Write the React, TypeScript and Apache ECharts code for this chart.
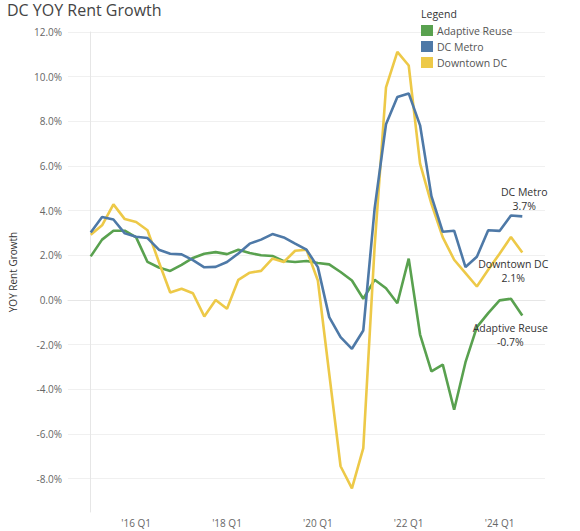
import React, { useEffect, useRef } from "react";
import * as echarts from "echarts";

const quarters = [
  "'15 Q1", "'15 Q2", "'15 Q3", "'15 Q4",
  "'16 Q1", "'16 Q2", "'16 Q3", "'16 Q4",
  "'17 Q1", "'17 Q2", "'17 Q3", "'17 Q4",
  "'18 Q1", "'18 Q2", "'18 Q3", "'18 Q4",
  "'19 Q1", "'19 Q2", "'19 Q3", "'19 Q4",
  "'20 Q1", "'20 Q2", "'20 Q3", "'20 Q4",
  "'21 Q1", "'21 Q2", "'21 Q3", "'21 Q4",
  "'22 Q1", "'22 Q2", "'22 Q3", "'22 Q4",
  "'23 Q1", "'23 Q2", "'23 Q3", "'23 Q4",
  "'24 Q1", "'24 Q2", "'24 Q3",
];

const xTickIndices = [4, 12, 20, 28, 36];
const yTickValues = [-8, -6, -4, -2, 0, 2, 4, 6, 8, 10, 12];

const adaptiveReuse = [
  1.95, 2.7, 3.1, 3.1, 2.8, 1.7, 1.45, 1.3, 1.57, 1.88,
  2.07, 2.14, 2.05, 2.25, 2.1, 2.0, 1.97, 1.74, 1.7, 1.74,
  1.65, 1.59, 1.25, 0.87, 0.05, 0.9, 0.52, -0.15, 1.85, -1.55,
  -3.2, -2.9, -4.92, -2.79, -1.22, -0.59, -0.02, 0.05, -0.7,
];

const dcMetro = [
  3.02, 3.71, 3.6, 2.98, 2.83, 2.77, 2.25, 2.07, 2.04, 1.78,
  1.46, 1.48, 1.7, 2.08, 2.52, 2.7, 2.95, 2.8, 2.52, 2.25,
  1.47, -0.77, -1.67, -2.19, -1.37, 4.1, 7.87, 9.09, 9.25, 7.82,
  4.65, 3.05, 3.1, 1.47, 1.93, 3.12, 3.09, 3.78, 3.74,
];

const downtownDC = [
  2.92, 3.34, 4.28, 3.62, 3.49, 3.12, 1.7, 0.33, 0.5, 0.3,
  -0.74, 0.0, -0.4, 0.9, 1.22, 1.3, 1.85, 1.7, 2.2, 2.25,
  0.87, -3.3, -7.45, -8.44, -6.64, 2.4, 9.52, 11.11, 10.5, 6.1,
  4.3, 2.8, 1.8, 1.2, 0.6, 1.35, 2.07, 2.82, 2.12,
];

const seriesNames = ["Adaptive Reuse", "DC Metro", "Downtown DC"];
const seriesColors = ["#59a14f", "#4e79a7", "#edc948"];

const FONT = "'Open Sans', 'Noto Sans', sans-serif";

export default function App() {
  const ref = useRef<HTMLDivElement>(null);

  useEffect(() => {
    if (!ref.current) return;
    const chart = echarts.init(ref.current, undefined, { renderer: "svg" });

    const endLabelCfg: any[] = [
      { verticalAlign: "top", offset: [-12, 5] },
      { verticalAlign: "bottom", offset: [2, -3] },
      { verticalAlign: "top", offset: [-9, 4] },
    ];

    const allValues = [adaptiveReuse, dcMetro, downtownDC];

    const series = allValues.map((vals, s) => ({
      name: seriesNames[s],
      type: "line",
      symbol: "none",
      showSymbol: false,
      color: seriesColors[s],
      lineStyle: { width: 2.6, color: seriesColors[s] },
      z: s === 1 ? 4 : s === 2 ? 3 : 2,
      endLabel: {
        show: true,
        formatter: (p: any) => seriesNames[s] + "\n" + Number(p.value[1]).toFixed(1) + "%",
        color: "#333",
        fontSize: 10.5,
        fontFamily: FONT,
        lineHeight: 14,
        distance: 0,
        align: "center",
        ...endLabelCfg[s],
      },
      data: vals.map((v, i) => [i, v]),
    }));

    chart.setOption({
      animation: false,
      backgroundColor: "#ffffff",
      textStyle: { fontFamily: FONT },
      title: [
        {
          text: "DC YOY Rent Growth",
          left: 7,
          top: 2,
          padding: 0,
          textStyle: {
            fontSize: 16,
            fontWeight: "normal",
            color: "#444",
            fontFamily: FONT,
          },
        },
        {
          text: "Legend",
          left: 421,
          top: 8,
          padding: 0,
          textStyle: {
            fontSize: 10.5,
            fontWeight: "normal",
            color: "#333",
            fontFamily: FONT,
          },
        },
      ],
      legend: {
        data: seriesNames,
        orient: "vertical",
        left: 421,
        top: 25,
        padding: 0,
        itemWidth: 12,
        itemHeight: 11,
        itemGap: 5,
        icon: "rect",
        textStyle: { fontSize: 10.5, color: "#555", fontFamily: FONT, padding: [0, 0, 0, -1] },
      },
      grid: { left: 68, right: 35, top: 32, bottom: 19, containLabel: false },
      xAxis: {
        type: "value",
        min: -2,
        max: quarters.length + 1,
        splitLine: { show: false },
        axisLine: { show: true, lineStyle: { color: "#e6e6e6", width: 1 } },
        axisTick: { show: false },
        axisLabel: {
          customValues: xTickIndices,
          formatter: (v: number) => quarters[Math.round(v)] ?? "",
          color: "#666",
          fontSize: 10,
          margin: 6,
          fontFamily: FONT,
        },
      },
      yAxis: {
        type: "value",
        min: -9.5,
        max: 12,
        name: "YOY Rent Growth",
        nameLocation: "middle",
        nameGap: 50,
        nameRotate: 90,
        nameTextStyle: { color: "#333", fontSize: 10, fontFamily: FONT },
        axisLine: { show: true, lineStyle: { color: "#e6e6e6", width: 1 } },
        axisTick: { show: false, customValues: yTickValues },
        splitLine: { show: true, lineStyle: { color: "#f0f0f0", width: 1 } },
        axisLabel: {
          customValues: yTickValues,
          formatter: (v: number) => v.toFixed(1) + "%",
          color: "#666",
          fontSize: 10,
          margin: 6,
          fontFamily: FONT,
        },
      },
      series,
    });

    return () => chart.dispose();
  }, []);

  return (
    <div
      ref={ref}
      style={{ position: "fixed", left: 0, top: 0, width: 580, height: 531, background: "#fff" }}
    />
  );
}
